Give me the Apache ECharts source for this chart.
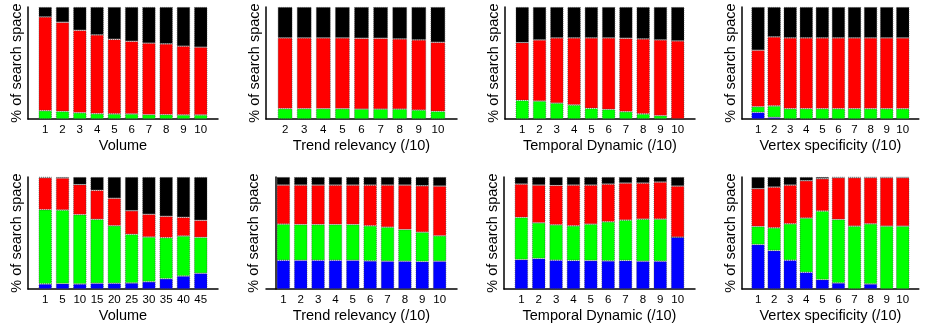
<!DOCTYPE html>
<html><head><meta charset="utf-8">
<script src="https://cdn.jsdelivr.net/npm/echarts@6/dist/echarts.min.js"></script>
<style>html,body{margin:0;padding:0;background:#fff}#c{width:925px;height:328px}</style>
</head><body><div id="c"></div>
<script>
// ---------- DATA (percent of search space, segment values bottom -> top) ----------
const catsVolumeTop = ['1','2','3','4','5','6','7','8','9','10'];
const catsTrendTop = ['2','3','4','5','6','7','8','9','10'];
const catsTenths = ['1','2','3','4','5','6','7','8','9','10'];
const catsVolumeBottom = ['1','5','10','15','20','25','30','35','40','45'];

const volTopBlue  = [0,0,0,0,0,0,0,0,0,0];
const volTopGreen = [7.4,6.8,5.6,4.7,4.5,4.5,3.9,3.9,3.6,3.6];
const volTopRed   = [83.7,79.6,73.6,70.4,66.7,64.9,63.8,63.2,61.4,60.5];
const volTopBlack = [8.9,13.6,20.8,24.9,28.8,30.6,32.3,32.9,35.0,35.9];

const trendTopBlue  = [0,0,0,0,0,0,0,0,0];
const trendTopGreen = [9.2,9.2,9.2,9.2,8.9,8.9,8.9,8.0,6.8];
const trendTopRed   = [63.2,63.2,63.2,63.2,63.2,63.2,62.6,62.6,61.7];
const trendTopBlack = [27.6,27.6,27.6,27.6,27.9,27.9,28.5,29.4,31.5];

const tempTopBlue  = [0,0,0,0,0,0,0,0,0,0];
const tempTopGreen = [16.6,16.0,14.2,12.5,9.5,8.6,6.5,4.5,3.0,0];
const tempTopRed   = [51.6,54.6,58.2,59.9,62.9,63.8,65.6,67.0,67.6,69.7];
const tempTopBlack = [31.8,29.4,27.6,27.6,27.6,27.6,27.9,28.5,29.4,30.3];

const vertTopBlue  = [5.9,1.5,0,0,0,0,0,0,0,0];
const vertTopGreen = [5.1,10.1,9.2,9.2,9.2,9.2,9.2,9.2,9.2,9.2];
const vertTopRed   = [50.4,61.7,63.2,63.2,63.2,63.2,63.2,63.2,63.2,63.2];
const vertTopBlack = [38.6,26.7,27.6,27.6,27.6,27.6,27.6,27.6,27.6,27.6];

const volBotBlue  = [4.5,4.8,4.5,5.1,5.1,5.4,6.5,9.2,11.6,14.0];
const volBotGreen = [66.3,65.7,61.9,57.1,51.4,43.4,39.9,36.6,35.7,32.1];
const volBotRed   = [28.6,28.6,26.8,25.9,24.5,21.1,20.3,19.1,16.7,15.2];
const volBotBlack = [0.6,0.9,6.8,11.9,19.0,30.1,33.3,35.1,36.0,38.7];

const trendBotBlue  = [25.6,25.6,25.6,25.6,25.6,25.1,24.8,24.8,24.5,24.8];
const trendBotGreen = [32.3,32.0,32.0,32.0,32.0,31.3,30.4,28.3,26.2,22.7];
const trendBotRed   = [34.9,35.2,35.2,35.2,35.2,36.4,37.6,39.7,41.5,44.4];
const trendBotBlack = [7.2,7.2,7.2,7.2,7.2,7.2,7.2,7.2,7.8,8.1];

const tempBotBlue  = [26.3,27.2,25.7,25.4,25.4,25.1,25.4,24.8,24.8,46.3];
const tempBotGreen = [37.6,31.9,31.6,31.0,32.5,34.9,36.1,37.6,37.6,0];
const tempBotRed   = [29.8,33.7,35.2,36.4,34.9,33.7,33.1,32.2,33.1,45.6];
const tempBotBlack = [6.3,7.2,7.5,7.2,7.2,6.3,5.4,5.4,4.5,8.1];

const vertBotBlue  = [39.7,34.3,25.7,14.9,8.4,5.4,0,4.5,0,0];
const vertBotGreen = [16.1,20.3,32.5,48.4,61.2,56.7,56.1,53.7,56.1,56.1];
const vertBotRed   = [33.8,36.4,34.6,33.4,28.9,37.3,43.3,41.2,43.3,43.3];
const vertBotBlack = [10.4,9.0,7.2,3.3,1.5,0.6,0.6,0.6,0.6,0.6];

const xNames = ['Volume','Trend relevancy (/10)','Temporal Dynamic (/10)','Vertex specificity (/10)'];
const yName = '% of search space';

const panels = [
  {cats: catsVolumeTop, name: xNames[0], segs: [volTopBlue, volTopGreen, volTopRed, volTopBlack]},
  {cats: catsTrendTop, name: xNames[1], segs: [trendTopBlue, trendTopGreen, trendTopRed, trendTopBlack]},
  {cats: catsTenths, name: xNames[2], segs: [tempTopBlue, tempTopGreen, tempTopRed, tempTopBlack]},
  {cats: catsTenths, name: xNames[3], segs: [vertTopBlue, vertTopGreen, vertTopRed, vertTopBlack]},
  {cats: catsVolumeBottom, name: xNames[0], segs: [volBotBlue, volBotGreen, volBotRed, volBotBlack]},
  {cats: catsTenths, name: xNames[1], segs: [trendBotBlue, trendBotGreen, trendBotRed, trendBotBlack]},
  {cats: catsTenths, name: xNames[2], segs: [tempBotBlue, tempBotGreen, tempBotRed, tempBotBlack]},
  {cats: catsTenths, name: xNames[3], segs: [vertBotBlue, vertBotGreen, vertBotRed, vertBotBlack]}
];

// ---------- LAYOUT ----------
const layout = [
  {left: 28,  top: 7,   width: 190, yGap: 4},
  {left: 266, top: 7,   width: 191, yGap: 4},
  {left: 505, top: 7,   width: 190, yGap: 4},
  {left: 742, top: 7,   width: 190, yGap: 4},
  {left: 28,  top: 177, width: 190, yGap: 4},
  {left: 266, top: 177, width: 191, yGap: 14, yOffset: -9.5},
  {left: 504, top: 177, width: 191, yGap: 4},
  {left: 742, top: 177, width: 190, yGap: 4}
];
const colors = ['#0000ff', '#00ff00', '#ff0000', '#000000'];
const FONT = '"Liberation Sans", Arial, sans-serif';

const grid = [], xAxis = [], yAxis = [], series = [];
panels.forEach((p, k) => {
  const L = layout[k];
  grid.push({left: L.left, top: L.top, width: L.width, height: 112});
  // one empty slot on each side so the bars sit one step in from the axis ends
  const axisCats = [' '].concat(p.cats, ['  ']);
  xAxis.push({
    type: 'category', gridIndex: k, data: axisCats, boundaryGap: false,
    axisLine: {show: true, onZero: false, lineStyle: {color: '#000', width: 1.5}},
    axisTick: {show: false}, splitLine: {show: false},
    axisLabel: {interval: 0, margin: 5, fontSize: 11.5, color: '#000', fontFamily: FONT},
    name: p.name, nameLocation: 'middle', nameGap: 19,
    nameTextStyle: {fontSize: 14.5, color: '#000', fontFamily: FONT}
  });
  yAxis.push({
    type: 'value', gridIndex: k, min: 0, max: 100, offset: L.yOffset || 0,
    axisLine: {show: true, lineStyle: {color: '#000', width: 1.5}},
    axisTick: {show: false}, splitLine: {show: false}, axisLabel: {show: false},
    name: yName, nameLocation: 'middle', nameGap: L.yGap,
    nameTextStyle: {fontSize: 14.5, color: '#000', fontFamily: FONT}
  });
  const bw = 0.77 * L.width / (axisCats.length - 1);
  p.segs.forEach((arr, s) => {
    series.push({
      type: 'bar', xAxisIndex: k, yAxisIndex: k, stack: 'p' + k,
      barWidth: bw,
      data: ['-'].concat(arr, ['-']),
      itemStyle: {color: colors[s], borderColor: 'rgba(60,60,60,0.7)', borderWidth: 0.8, borderType: [1, 1]},
      emphasis: {disabled: true}
    });
  });
});

const chart = echarts.init(document.getElementById('c'), null, {renderer: 'canvas'});
chart.setOption({animation: false, grid, xAxis, yAxis, series});
</script></body></html>
